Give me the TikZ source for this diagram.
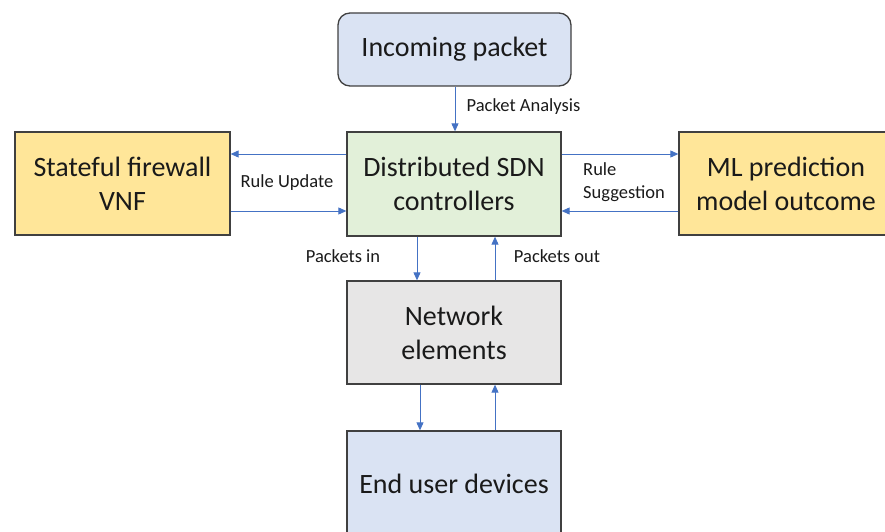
\documentclass[tikz,border=0pt]{standalone}
\usepackage{fontspec}
\setmainfont{Carlito}
\usetikzlibrary{arrows.meta}
\definecolor{edge}{HTML}{404040}
\definecolor{flow}{HTML}{4472C4}
\definecolor{bluefill}{HTML}{DAE3F3}
\definecolor{greenfill}{HTML}{E2F0D9}
\definecolor{yellowfill}{HTML}{FFE699}
\definecolor{greyfill}{HTML}{E7E6E6}
\definecolor{txt}{HTML}{1A1A1A}
\tikzset{
  block/.style={draw=edge, line width=1.3pt, align=center, text=txt,
    font=\fontsize{28}{34}\selectfont, inner sep=0pt},
  tag/.style={text=txt, font=\fontsize{18.5}{23}\selectfont, inner sep=0pt},
  flowarrow/.style={draw=flow, line width=0.9pt,
    -{Triangle[length=8pt,width=7pt]}},
}
\begin{document}
\begin{tikzpicture}[x=1pt,y=-1pt]
  \useasboundingbox (0,0) rectangle (885,532);
  \clip (0,0) rectangle (885,532);

  % boxes
  \node[block, fill=bluefill, rounded corners=12pt,
        minimum width=233pt, minimum height=73pt] (inc) at (454.5,49.5) {Incoming packet};
  \node[block, fill=greenfill, minimum width=214pt, minimum height=104pt]
        (sdn) at (454,184) {Distributed SDN\\controllers};
  \node[block, fill=yellowfill, minimum width=215pt, minimum height=103pt]
        (fw) at (122.5,183.5) {Stateful firewall\\VNF};
  \node[block, fill=yellowfill, minimum width=214pt, minimum height=103pt]
        (ml) at (786,183.5) {ML prediction\\model outcome};
  \node[block, fill=greyfill, minimum width=214pt, minimum height=103pt]
        (net) at (454,332.5) {Network\\elements};
  \node[block, fill=bluefill, minimum width=214pt, minimum height=106pt]
        (end) at (454,484) {End user devices};

  % connectors
  \draw[flowarrow] (inc.south -| 455,0) -- (sdn.north -| 455,0);
  \draw[flowarrow] (sdn.west |- 0,154) -- (fw.east |- 0,154);
  \draw[flowarrow] (fw.east |- 0,211) -- (sdn.west |- 0,211);
  \draw[flowarrow] (sdn.east |- 0,154) -- (ml.west |- 0,154);
  \draw[flowarrow] (ml.west |- 0,211) -- (sdn.east |- 0,211);
  \draw[flowarrow] (sdn.south -| 417,0) -- (net.north -| 417,0);
  \draw[flowarrow] (net.north -| 495,0) -- (sdn.south -| 495,0);
  \draw[flowarrow] (net.south -| 420,0) -- (end.north -| 420,0);
  \draw[flowarrow] (end.north -| 495,0) -- (net.south -| 495,0);

  % connector labels
  \node[tag] (lblanalysis) at (523.5,107) {Packet Analysis};
  \node[tag] (lblupdate) at (287,183) {Rule Update};
  \node[tag, anchor=west, align=left] (lblsuggest) at (583,182.5) {Rule\\Suggestion};
  \node[tag] (lblin) at (343,256) {Packets in};
  \node[tag] (lblout) at (557,256) {Packets out};
\end{tikzpicture}
\end{document}
